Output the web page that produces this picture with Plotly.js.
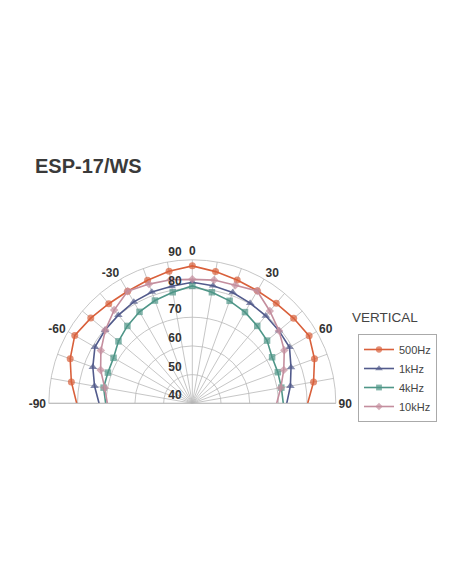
<!DOCTYPE html>
<html>
<head>
<meta charset="utf-8">
<script src="https://cdn.plot.ly/plotly-3.0.1.min.js"></script>
<style>
  html, body { margin: 0; padding: 0; background: #fff; }
  #chart { width: 452px; height: 584px; }
</style>
</head>
<body>
<div id="chart"></div>
<script>
// angles in degrees, 0 = on axis, negative = left
const angles = [-90, -80, -70, -60, -50, -40, -30, -20, -10, 0, 10, 20, 30, 40, 50, 60, 70, 80, 90];

// SPL (dB)
const spl500 = [80.3, 82.8, 85.3, 87.3, 86.2, 85.3, 85.1, 85.6, 86.7, 87.9, 86.6, 85.7, 85.3, 85.5, 86.1, 87.0, 85.3, 82.9, 80.2];
const spl1k  = [72.5, 74.6, 76.9, 79.2, 79.7, 80.1, 80.8, 81.3, 81.4, 82.2, 81.6, 81.1, 80.3, 79.8, 79.4, 79.1, 76.6, 74.7, 72.9];
const spl4k  = [70.2, 71.4, 71.3, 71.7, 73.6, 75.2, 76.8, 78.1, 79.3, 80.9, 79.3, 78.0, 76.7, 75.2, 74.0, 72.1, 71.7, 71.5, 71.7];
const spl10k = [69.6, 71.0, 74.0, 76.8, 79.6, 82.4, 85.1, 84.2, 83.7, 83.2, 83.6, 83.8, 85.2, 82.0, 79.4, 77.0, 73.9, 71.3, 69.4];

const radialTicks = [40, 50, 60, 70, 80, 90];
const angleLabels = [-90, -60, -30, 0, 30, 60, 90];

// no marker on the baseline ends
const sizes = (s) => angles.map(a => Math.abs(a) === 90 ? 0 : s);

const series = [
  { name: '500Hz', r: spl500, color: '#d9603b', symbol: 'circle', size: 7 },
  { name: '1kHz', r: spl1k, color: '#525b8c', symbol: 'triangle-up', size: 7.5 },
  { name: '4kHz', r: spl4k, color: '#4f9688', symbol: 'square', size: 6.5 },
  { name: '10kHz', r: spl10k, color: '#c48e9e', symbol: 'diamond', size: 6.5 }
];

const data = series.map(s => ({
  type: 'scatterpolar',
  mode: 'lines+markers',
  name: s.name,
  theta: angles,
  r: s.r,
  line: { color: s.color, width: 1.6 },
  marker: { color: s.color, symbol: s.symbol, size: sizes(s.size), line: { width: 0 } },
  cliponaxis: false
}));

const layout = {
  width: 452,
  height: 584,
  margin: { t: 0, l: 0, r: 0, b: 0 },
  paper_bgcolor: '#fff',
  font: { family: 'Liberation Sans, Arial, sans-serif', color: '#333' },
  title: {
    text: 'ESP-17/WS',
    x: 35 / 452, xanchor: 'left', xref: 'paper',
    y: 1 - 166 / 584, yanchor: 'middle', yref: 'paper',
    font: { size: 20, weight: 'bold', color: '#3a3a3a' }
  },
  polar: {
    domain: { x: [0.108, 0.743], y: [0.3094, 0.5551] },
    sector: [0, 180],
    bgcolor: '#fff',
    radialaxis: {
      range: [40, 90],
      tickmode: 'array',
      tickvals: radialTicks,
      // blank second line lifts each label above its ring
      ticktext: radialTicks.map(v => v + '<br> '),
      angle: 90,
      side: 'counterclockwise',
      tickangle: 90,
      showline: false,
      ticks: 'outside',
      ticklen: 6,
      tickcolor: 'rgba(0,0,0,0)',
      gridcolor: '#b8b8b8',
      gridwidth: 0.8,
      tickfont: { size: 12, weight: 'bold', color: '#333' }
    },
    angularaxis: {
      rotation: 90,
      direction: 'clockwise',
      tickmode: 'array',
      tickvals: angles,
      ticktext: angles.map(a => angleLabels.includes(a) ? String(a) : ''),
      ticks: '',
      showline: true,
      linecolor: '#b8b8b8',
      linewidth: 0.8,
      gridcolor: '#b8b8b8',
      gridwidth: 0.8,
      tickfont: { size: 12, weight: 'bold', color: '#333' }
    }
  },
  showlegend: true,
  legend: {
    x: 358 / 452, xanchor: 'left',
    y: 1 - 334 / 584, yanchor: 'top',
    bgcolor: '#fff',
    bordercolor: '#aaa',
    borderwidth: 1,
    font: { size: 11, color: '#444' },
    itemwidth: 30,
    tracegroupgap: 0
  },
  annotations: [{
    text: 'VERTICAL',
    xref: 'paper', yref: 'paper',
    x: 385 / 452, y: 1 - 317 / 584,
    xanchor: 'center', yanchor: 'middle',
    showarrow: false,
    font: { size: 13.5, color: '#444' }
  }]
};

Plotly.newPlot('chart', data, layout, { staticPlot: true });
</script>
</body>
</html>
